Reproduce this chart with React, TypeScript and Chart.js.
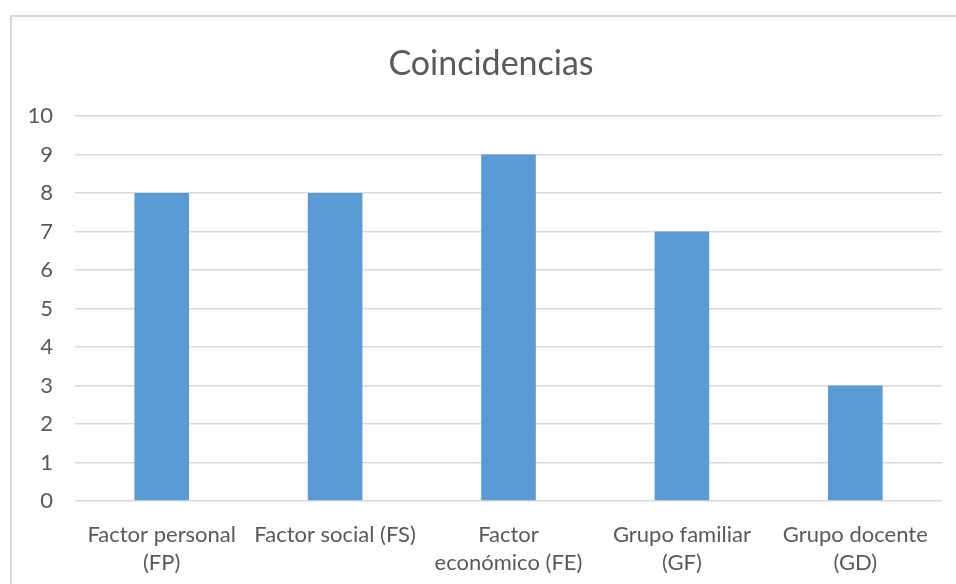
import React, { useEffect, useRef } from "react";
import { Chart, registerables } from "chart.js";

Chart.register(...registerables);

const categories: string[][] = [
  ["Factor personal", "(FP)"],
  ["Factor social (FS)"],
  ["Factor", "económico (FE)"],
  ["Grupo familiar", "(GF)"],
  ["Grupo docente", "(GD)"],
];
const values: number[] = [8, 8, 9, 7, 3];
const titleText = "Coincidencias";
const yMin = 0;
const yMax = 10;
const yStep = 1;

const TEXT = "#595959";
const GRID = "#D9D9D9";
const BAR = "#5B9BD5";
const FONT = "Lato, 'Open Sans', sans-serif";

const centeredTitle = {
  id: "centeredTitle",
  afterDraw(chart: any) {
    const ctx = chart.ctx;
    ctx.save();
    ctx.fillStyle = TEXT;
    ctx.font = `normal 34px ${FONT}`;
    ctx.textAlign = "center";
    ctx.textBaseline = "middle";
    ctx.fillText(titleText, chart.width / 2, 64);
    ctx.restore();
  },
};

export default function App() {
  const ref = useRef<HTMLCanvasElement | null>(null);

  useEffect(() => {
    if (!ref.current) return;
    const chart = new Chart(ref.current, {
      type: "bar",
      data: {
        labels: categories,
        datasets: [
          {
            data: values,
            backgroundColor: BAR,
            borderWidth: 0,
            categoryPercentage: 1,
            barPercentage: 0.315,
          },
        ],
      },
      options: {
        animation: false,
        responsive: false,
        maintainAspectRatio: false,
        layout: { padding: { left: 0, right: 29, top: 116, bottom: 0 } },
        plugins: {
          legend: { display: false },
          tooltip: { enabled: false },
          title: { display: false },
        },
        scales: {
          x: {
            grid: { display: false },
            border: { display: false },
            ticks: {
              color: TEXT,
              font: { family: FONT, size: 22, lineHeight: 1.27 },
              padding: 12,
              maxRotation: 0,
              autoSkip: false,
            },
            afterFit: (s: any) => {
              s.height = 83;
            },
          },
          y: {
            min: yMin,
            max: yMax,
            grid: { color: GRID, lineWidth: 1.5, drawTicks: false },
            border: { display: false },
            ticks: {
              stepSize: yStep,
              color: TEXT,
              font: { family: FONT, size: 22 },
              padding: 22,
            },
            afterFit: (s: any) => {
              s.width = 64;
            },
          },
        },
      },
      plugins: [centeredTitle],
    });
    return () => chart.destroy();
  }, []);

  return (
    <div
      style={{
        position: "fixed",
        left: 0,
        top: 0,
        width: 956,
        height: 584,
        overflow: "hidden",
        background: "#fff",
      }}
    >
      <div
        style={{
          position: "absolute",
          left: 10,
          top: 15,
          width: 1000,
          height: 700,
          border: `2px solid ${GRID}`,
          boxSizing: "border-box",
        }}
      />
      <canvas
        ref={ref}
        width={960}
        height={584}
        style={{ position: "absolute", left: 11, top: 0, width: 960, height: 584 }}
      />
    </div>
  );
}
